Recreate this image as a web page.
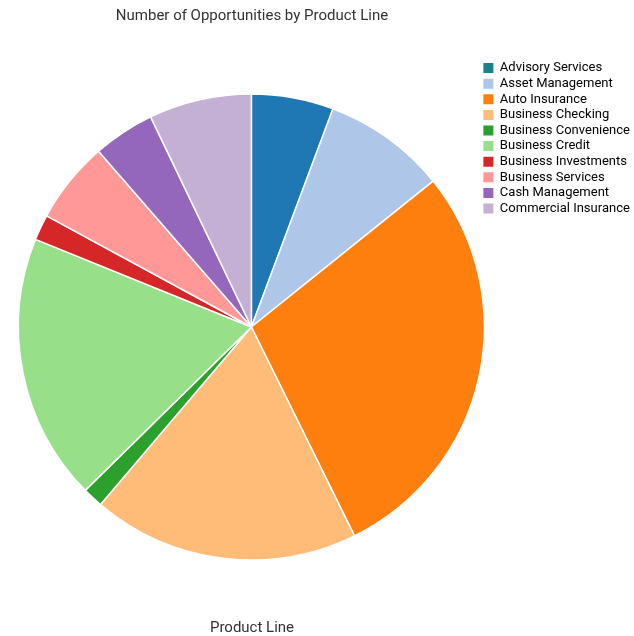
<!DOCTYPE html>
<html>
<head>
<meta charset="utf-8">
<script src="https://cdn.jsdelivr.net/npm/chart.js@4"></script>
<style>
  html, body { margin: 0; padding: 0; background: #fff; }
  #wrap { position: relative; width: 634px; height: 636px; font-family: Roboto, sans-serif; }
  #title { position: absolute; left: 0; width: 504px; top: 6px; text-align: center; font-size: 15px; color: #333; }
  #xlabel { position: absolute; left: 0; width: 504px; top: 618px; text-align: center; font-size: 15px; color: #333; }
  canvas { position: absolute; left: 0; top: 0; }
</style>
</head>
<body>
<div id="wrap">
  <canvas id="pie" width="634" height="636"></canvas>
  <div id="title">Number of Opportunities by Product Line</div>
  <div id="xlabel">Product Line</div>
</div>
<script>
// --- data ---
const productLines = [
  'Advisory Services', 'Asset Management', 'Auto Insurance', 'Business Checking',
  'Business Convenience', 'Business Credit', 'Business Investments',
  'Business Services', 'Cash Management', 'Commercial Insurance'
];
const opportunityCounts = [4, 6, 20, 13, 1, 13, 1.25, 4, 3, 5];
const sliceColors = ['#1f77b4', '#aec7e8', '#ff7f0e', '#ffbb78', '#2ca02c',
                     '#98df8a', '#d62728', '#ff9896', '#9467bd', '#c5b0d5'];
// legend swatch for the first entry is teal in the original
const legendColors = ['#17828a', '#aec7e8', '#ff7f0e', '#ffbb78', '#2ca02c',
                      '#98df8a', '#d62728', '#ff9896', '#9467bd', '#c5b0d5'];

const ctx = document.getElementById('pie').getContext('2d');
new window.Chart(ctx, {
  type: 'pie',
  data: {
    labels: productLines,
    datasets: [{
      data: opportunityCounts,
      backgroundColor: sliceColors,
      borderColor: '#fff',
      borderWidth: 1.5
    }]
  },
  options: {
    responsive: false,
    animation: false,
    radius: 233,
    layout: { padding: { left: 22, top: 59, bottom: 41, right: -6 } },
    plugins: {
      tooltip: { enabled: false },
      legend: {
        position: 'right',
        align: 'start',
        labels: {
          boxWidth: 10,
          boxHeight: 10,
          padding: 2.6,
          color: '#444',
          font: { family: 'Roboto', size: 13 },
          generateLabels: (chart) => productLines.map((name, i) => ({
            text: name,
            fillStyle: legendColors[i],
            strokeStyle: legendColors[i],
            lineWidth: 0,
            hidden: false,
            index: i
          }))
        }
      }
    }
  }
});
</script>
</body>
</html>
